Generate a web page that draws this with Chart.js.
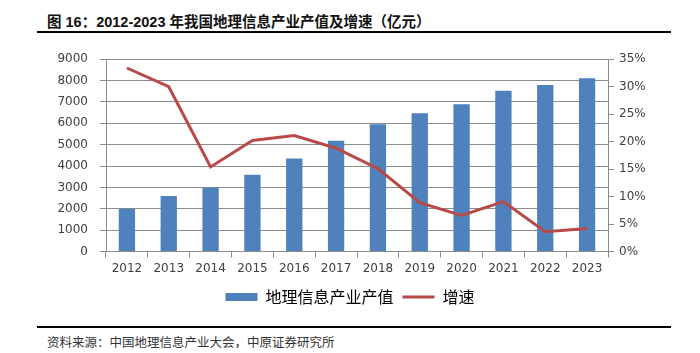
<!DOCTYPE html>
<html>
<head>
<meta charset="utf-8">
<script src="https://cdn.jsdelivr.net/npm/chart.js@4.4.0/dist/chart.umd.min.js"></script>
<style>
  body { margin: 0; background: #fff; width: 700px; height: 353px; position: relative; overflow: hidden; }
  #title { position: absolute; left: 47px; top: 10px; font: bold 14.5px "Liberation Sans", "Noto Sans CJK SC", sans-serif; color: #111; white-space: nowrap; }
  .rule { position: absolute; left: 37px; width: 634px; height: 2px; background: #000; }
  #source { position: absolute; left: 47px; top: 332px; font: 12.5px "Noto Sans CJK SC", sans-serif; color: #333; white-space: nowrap; }
  #wrap { position: absolute; left: 0; top: 40px; width: 700px; height: 275px; }
</style>
</head>
<body>
<div id="title">图 16：2012-2023 年我国地理信息产业产值及增速（亿元）</div>
<div class="rule" style="top:31px"></div>
<div id="wrap"><canvas id="myChart"></canvas></div>
<div class="rule" style="top:326px"></div>
<div id="source">资料来源：中国地理信息产业大会，中原证券研究所</div>
<script>
const years = ['2012', '2013', '2014', '2015', '2016', '2017', '2018', '2019', '2020', '2021', '2022', '2023'];
const outputValue = [2000, 2600, 3000, 3600, 4360, 5180, 5957, 6476, 6890, 7524, 7789, 8111]; // 亿元
const growthRate = [33.4, 30.0, 15.4, 20.2, 21.1, 18.8, 15.1, 8.9, 6.6, 9.1, 3.6, 4.2]; // %
const leftTicks = [0, 1000, 2000, 3000, 4000, 5000, 6000, 7000, 8000, 9000];
const rightTicks = [0, 5, 10, 15, 20, 25, 30, 35];

const tickFont = { family: 'DejaVu Sans', size: 12 };
const gridColor = '#8c8c8c';

const ctx = document.getElementById('myChart').getContext('2d');
new Chart(ctx, {
  type: 'bar',
  data: {
    labels: years,
    datasets: [{
      type: 'line',
      label: '增速',
      data: growthRate,
      yAxisID: 'y1',
      borderColor: '#b84a48',
      backgroundColor: '#b84a48',
      borderWidth: 3,
      pointRadius: 0,
      tension: 0,
      order: 0
    }, {
      label: '地理信息产业产值',
      data: outputValue,
      yAxisID: 'y',
      backgroundColor: '#4f81bd',
      categoryPercentage: 1,
      barPercentage: 0.39,
      order: 1
    }]
  },
  options: {
    responsive: true,
    maintainAspectRatio: false,
    animation: false,
    layout: { padding: { top: 18, right: 0, left: 0, bottom: 0 } },
    plugins: {
      tooltip: { enabled: false },
      legend: {
        position: 'bottom',
        labels: {
          usePointStyle: true,
          pointStyleWidth: 32,
          boxHeight: 8,
          padding: 9,
          color: '#404040',
          font: { family: 'Noto Sans CJK SC', size: 16 },
          generateLabels: (chart) => chart.data.datasets.slice().reverse().map((ds) => ({
            text: ds.label,
            fillStyle: ds.backgroundColor,
            strokeStyle: ds.type === 'line' ? ds.borderColor : ds.backgroundColor,
            lineWidth: ds.type === 'line' ? 3 : 0,
            pointStyle: ds.type === 'line' ? 'line' : 'rect',
            datasetIndex: chart.data.datasets.indexOf(ds),
            hidden: false
          }))
        }
      }
    },
    scales: {
      x: {
        grid: { drawOnChartArea: false, drawTicks: true, tickLength: 6, color: gridColor, offset: true },
        border: { color: gridColor },
        ticks: { font: tickFont, color: '#404040', padding: 4, maxRotation: 0 }
      },
      y: {
        position: 'left',
        min: 0, max: 9000,
        afterBuildTicks: (s) => { s.ticks = leftTicks.map(v => ({ value: v })); },
        afterFit: (s) => { s.width = 106; },
        grid: { color: gridColor, tickLength: 6 },
        border: { color: gridColor },
        ticks: { font: tickFont, color: '#404040', padding: 12, callback: v => String(v) }
      },
      y1: {
        position: 'right',
        min: 0, max: 35,
        afterBuildTicks: (s) => { s.ticks = rightTicks.map(v => ({ value: v })); },
        afterFit: (s) => { s.width = 92; },
        grid: { drawOnChartArea: false, color: gridColor, tickLength: 6 },
        border: { color: gridColor },
        ticks: { font: tickFont, color: '#404040', padding: 5, callback: v => v + '%' }
      }
    }
  }
});
</script>
</body>
</html>
